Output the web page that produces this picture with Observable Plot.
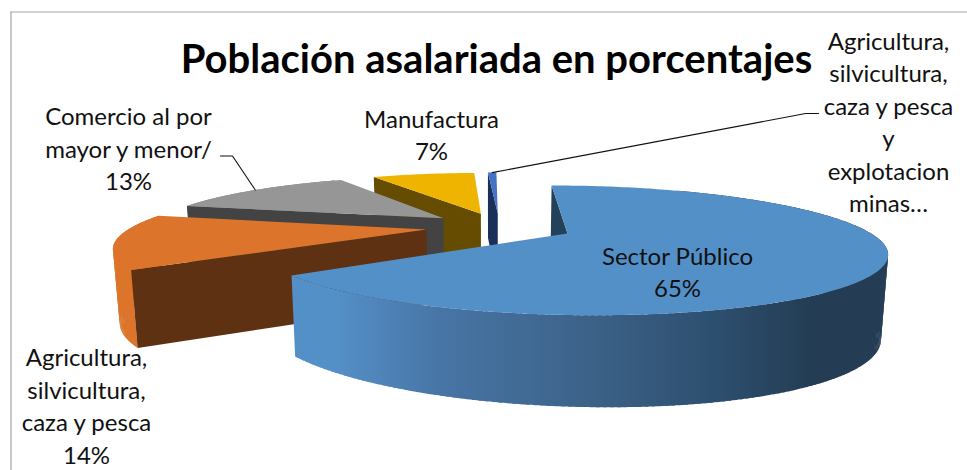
<!DOCTYPE html>
<html><head><meta charset="utf-8">
<script src="https://cdn.jsdelivr.net/npm/d3@7"></script>
<script src="https://cdn.jsdelivr.net/npm/@observablehq/plot@0.6"></script>
<style>html,body{margin:0;padding:0;background:#fff}svg{display:block}</style>
</head><body><div id="chart"></div>
<script>
// Data, clockwise from 12 o'clock
const sectors = ["Sector Público","Agricultura, silvicultura, caza y pesca","Comercio al por mayor y menor/","Manufactura","Agricultura, silvicultura, caza y pesca y explotacion minas…"];
const percents = [65,14,13.15,7.25,0.6];
const explosion = 0.25;
const titleText = "Población asalariada en porcentajes";
const labelTexts = [
  "Sector Público\n65%",
  "Agricultura,\nsilvicultura,\ncaza y pesca\n14%",
  "Comercio al por\nmayor y menor/\n13%",
  "Manufactura\n7%",
  "Agricultura,\nsilvicultura,\ncaza y pesca\ny\nexplotacion\nminas…"
];
// Styling
const topColors = ["#5490c8","#dc752b","#969696","#eeb400","#4472c4"];
const faceColors = ["#24415a","#5e3113","#434343","#664c00","#1b2f5b"];
const wallColors = ["url(#mainWall)","#dc752b","#969696","#eeb400","#4472c4"];
const labelX = [677,86,128,431,888];
const labelY = [270,404,147,133,120];
const FONT = "Lato, 'Open Sans', sans-serif";

// Camera: perspective projection of the pie
const cam = {xc:490, y0:233, cx:567, R:303.5, H:60.5, p:0.26, D:76, a:41.5, b:0.0127, k:0.018};
const project = (u, v) => {
  const s = 1/(1 + cam.p*v);
  const X = cam.cx + cam.R*u;
  return {x: cam.xc + (X-cam.xc)*s, y: cam.y0 - cam.H*v*s, s};
};
const drop = (q) => ({
  x: cam.xc + (q.x-cam.xc)*(1-cam.k),
  y: q.y + cam.D + cam.a*(q.s-1) + cam.b*(q.x-cam.xc)
});
const rad = d => d*Math.PI/180;

const total = d3.sum(percents);
const cum = d3.cumsum(percents);
const slices = percents.map((pct,i) => {
  const a0 = (i?cum[i-1]:0)/total*360, a1 = cum[i]/total*360, mid=(a0+a1)/2;
  return {i,a0,a1,mid,ou:explosion*Math.sin(rad(mid)),ov:explosion*Math.cos(rad(mid))};
});
// the first slice's apex is the reference point of the camera
const base = slices[0];
const pos = (sl,deg,r=1) => project(sl.ou-base.ou + r*Math.sin(rad(deg)), sl.ov-base.ov + r*Math.cos(rad(deg)));
const arc = (sl,a,b) => { const n=Math.max(2,Math.ceil(Math.abs(b-a))); return d3.range(n+1).map(j=>pos(sl,a+(b-a)*j/n)); };

const faces = [];
for (const idx of [3,4,2,1,0]) {
  const sl = slices[idx];
  const apex = pos(sl,0,0);
  const corner = pos(sl,sl.a0);
  // outer wall, built from overlapping strips so that its silhouette is closed
  const lo = Math.max(sl.a0,30), hi = Math.min(sl.a1,330);
  for (let a = lo; a < hi; a += 1) {
    const t = arc(sl,a,Math.min(a+1.5,hi));
    faces.push({pts:[...t,...t.map(drop).reverse()],fill:wallColors[idx]});
  }
  // radial face at the start of the slice
  faces.push({pts:[apex,corner,drop(corner),drop(apex)],fill:faceColors[idx]});
  // top face
  faces.push({pts:[apex,...arc(sl,sl.a0,sl.a1)],fill:topColors[idx]});
}

// Leaders end on the mid-arc of their slices
const leaders = [
  [{x:220,y:155.5},{x:232,y:155.5},pos(slices[2],slices[2].mid)],
  [{x:818,y:113},{x:805,y:113},pos(slices[4],slices[4].mid)]
];

const mainArc = arc(slices[0],slices[0].a0,slices[0].a1);
const defs = () => {
  const d = d3.create("svg:defs");
  const g = d.append("linearGradient").attr("id","mainWall").attr("gradientUnits","userSpaceOnUse")
    .attr("x1",d3.min(mainArc,p=>p.x)).attr("x2",d3.max(mainArc,p=>p.x)).attr("y1",0).attr("y2",0);
  [[0,"#5490c8"],[0.07,"#5490c8"],[0.25,"#4775a5"],[0.5,"#3c6288"],[0.7,"#2e5070"],[0.87,"#243d55"],[1,"#243d55"]]
    .forEach(([o,c])=>g.append("stop").attr("offset",o).attr("stop-color",c));
  return d.node();
};

const labels = labelTexts.map((t,i)=>({t,x:labelX[i],y:labelY[i]}));

const chart = Plot.plot({
  width:967,height:470,margin:0,
  x:{domain:[0,967],range:[0,967],axis:null},
  y:{domain:[0,470],range:[0,470],axis:null},
  style:{background:"#fff"},
  marks:[
    defs,
    Plot.ruleX([10.5],{y1:11.5,y2:470,stroke:"#a6a6a6",strokeWidth:1.2}),
    Plot.ruleY([11.5],{x1:10.5,x2:967,stroke:"#a6a6a6",strokeWidth:1.2}),
    ...faces.map(f=>Plot.line(f.pts,{x:"x",y:"y",fill:f.fill,stroke:"none"})),
    ...leaders.map(l=>Plot.line(l,{x:"x",y:"y",stroke:"#111",strokeWidth:1.1})),
    Plot.text(labels,{x:"x",y:"y",text:"t",fontSize:24,lineHeight:1.354,fontFamily:FONT,fill:"#111",textAnchor:"middle",lineAnchor:"middle"}),
    Plot.text([titleText],{x:()=>496,y:()=>60,fontSize:40,fontWeight:"bold",fontFamily:FONT,fill:"#000",textAnchor:"middle",lineAnchor:"middle"})
  ]
});
document.getElementById("chart").append(chart);
</script></body></html>
